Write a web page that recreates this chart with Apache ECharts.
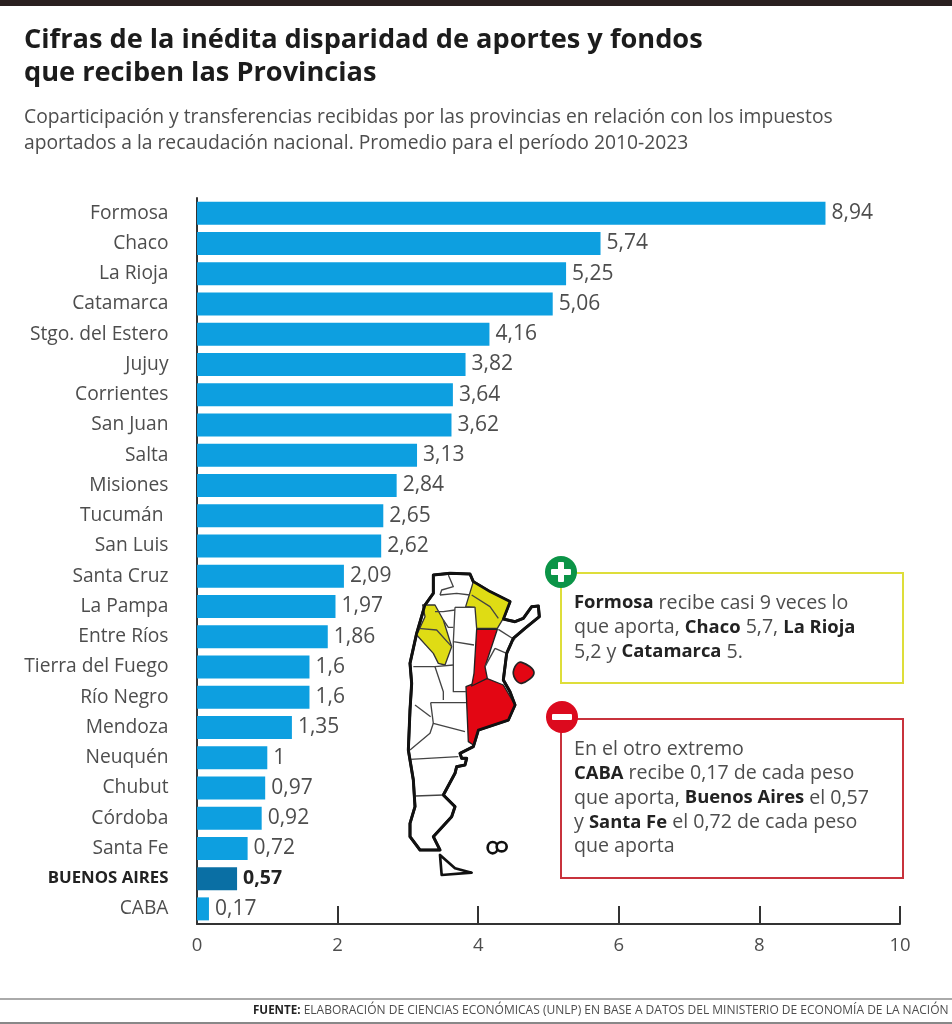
<!DOCTYPE html>
<html><head><meta charset="utf-8">
<style>html,body{margin:0;padding:0;background:#fff}#c{width:952px;height:1024px}</style>
<script src="https://cdn.jsdelivr.net/npm/echarts@6/dist/echarts.min.js"></script>
</head><body><div id="c"></div>
<script>
const categories = ['Formosa','Chaco','La Rioja','Catamarca','Stgo. del Estero','Jujuy','Corrientes','San Juan','Salta','Misiones','Tucumán ','San Luis','Santa Cruz','La Pampa','Entre Ríos','Tierra del Fuego','Río Negro','Mendoza','Neuquén','Chubut','Córdoba','Santa Fe','BUENOS AIRES','CABA'];
const values = [8.94,5.74,5.25,5.06,4.16,3.82,3.64,3.62,3.13,2.84,2.65,2.62,2.09,1.97,1.86,1.6,1.6,1.35,1,0.97,0.92,0.72,0.57,0.17];
const highlighted = 'BUENOS AIRES';
const titleLines = 'Cifras de la inédita disparidad de aportes y fondos\nque reciben las Provincias';
const subtitleLines = 'Coparticipación y transferencias recibidas por las provincias en relación con los impuestos\naportados a la recaudación nacional. Promedio para el período 2010-2023';
const plusNote = '{b|Formosa} recibe casi 9 veces lo\nque aporta, {b|Chaco} 5,7, {b|La Rioja}\n5,2 y {b|Catamarca} 5.';
const minusNote = 'En el otro extremo\n{b|CABA} recibe 0,17 de cada peso\nque aporta, {b|Buenos Aires} el 0,57\ny {b|Santa Fe} el 0,72 de cada peso\nque aporta';
const font = '"Open Sans"';
const gray = '#4d4d4d', ink = '#222';

const outline = [[100,75],[150,70],[210,72],[220,95],[270,125],[330,155],[310,207],[345,215],[370,205],[395,170],[415,168],[418,200],[375,235],[340,265],[320,310],[310,390],[330,425],[345,465],[325,510],[235,540],[220,590],[180,610],[185,625],[200,625],[195,645],[170,650],[165,670],[130,735],[165,770],[155,800],[100,860],[120,900],[60,900],[30,860],[30,820],[45,770],[40,690],[25,600],[30,480],[35,400],[30,340],[50,250],[75,165],[100,130]];
const fuego = [[120,915],[125,975],[215,968],[165,955]];
const redShapes = [
  [[198,410],[260,385],[310,405],[345,465],[325,510],[235,540],[220,585],[205,575]],
  [[230,238],[292,238],[255,350],[262,385],[215,408],[222,370]]
];
const redBlob = [[345,350],[365,337],[402,368],[365,400],[342,380]];
const yellowShapes = [
  [[220,95],[270,125],[330,155],[310,205],[292,235],[230,235],[225,172],[197,170]],
  [[68,165],[105,165],[130,210],[155,290],[135,345],[115,340],[100,310],[50,255],[75,200]]
];
const borders = [
  [[165,172],[225,172]],[[165,172],[160,275],[222,285]],[[160,275],[160,425],[198,425]],
  [[40,350],[70,350],[105,350],[160,345]],[[105,350],[130,425],[130,450]],[[92,458],[198,458]],[[92,458],[100,520],[195,545]],
  [[100,520],[90,550],[30,600]],[[30,628],[175,620]],[[45,738],[130,735]],[[45,465],[92,500]],
  [[215,135],[270,170],[295,205]],[[105,185],[130,185],[165,180]],[[130,210],[145,232],[160,232]],
  [[55,235],[110,240],[155,290]],[[145,75],[160,110],[125,120],[120,135]],[[120,135],[170,130],[210,135]],
  [[295,238],[345,270]],[[285,295],[320,310]],[[255,350],[285,295]]
];
const pl = (pts,style,closed,smooth)=>({type:closed?'polygon':'polyline',shape:{points:pts,smooth:smooth||0},style});
const mapChildren = [
  pl(outline,{fill:'#fff',stroke:'#111',lineWidth:9,lineJoin:'round'},true),
  ...yellowShapes.map(p=>pl(p,{fill:'#dfdc14',stroke:'#333',lineWidth:4,lineJoin:'round'},true)),
  ...redShapes.map(p=>pl(p,{fill:'#e30613',stroke:'#222',lineWidth:4,lineJoin:'round'},true)),
  ...borders.map(p=>pl(p,{fill:null,stroke:'#444',lineWidth:4,lineJoin:'round'},false)),
  pl(outline,{fill:null,stroke:'#111',lineWidth:8,lineJoin:'round'},true),
  pl(fuego,{fill:'#fff',stroke:'#111',lineWidth:8,lineJoin:'round'},true),
  pl(redBlob,{fill:'#e30613',stroke:'#222',lineWidth:5},true,0.4),
  {type:'ellipse',shape:{cx:278,cy:893,rx:15,ry:17},style:{fill:'#fff',stroke:'#111',lineWidth:8}},
  {type:'ellipse',shape:{cx:305,cy:890,rx:15,ry:14},style:{fill:'#fff',stroke:'#111',lineWidth:8}}
];
function badge(cx,cy,color,plus){
  const bars=[{type:'rect',shape:{x:cx-10,y:cy-3,width:20,height:6,r:1},style:{fill:'#fff'}}];
  if(plus) bars.push({type:'rect',shape:{x:cx-3,y:cy-10,width:6,height:20,r:1},style:{fill:'#fff'}});
  return [{type:'circle',shape:{cx,cy,r:16},style:{fill:color}},...bars];
}
const noteStyle=(x,y,text)=>({type:'text',x,y,style:{text,font:`19.6px ${font}`,fill:gray,lineHeight:24.4,rich:{b:{font:`bold 18.4px ${font}`,fill:ink,lineHeight:24.4}}}});

const chart = echarts.init(document.getElementById('c'),null,{renderer:'canvas'});
chart.setOption({
  animation:false,
  backgroundColor:'#fff',
  grid:{left:197,right:52,top:198,bottom:100,containLabel:false},
  xAxis:{type:'value',min:0,max:10,interval:2,splitLine:{show:false},
    axisLine:{show:true,lineStyle:{color:'#333',width:2}},
    axisTick:{show:true,inside:true,length:18,lineStyle:{color:'#333',width:2}},
    axisLabel:{color:gray,fontFamily:'"Open Sans"',fontSize:18.5,margin:12,formatter:v=>String(v),showMinLabel:true,showMaxLabel:true}},
  yAxis:{type:'category',inverse:true,data:categories,
    axisLine:{show:true,onZero:false,lineStyle:{color:'#333',width:2}},axisTick:{show:false},
    axisLabel:{margin:28.5,color:gray,fontFamily:'"Open Sans"',fontSize:19.2,
      formatter:v=>v===highlighted?`{h|${v}}`:v,
      rich:{h:{fontFamily:'"Open Sans"',fontWeight:'bold',fontSize:16.8,color:ink}}}},
  series:[{type:'bar',barWidth:23,data:values.map((v,i)=>({value:v,itemStyle:{color:categories[i]===highlighted?'#0a6fa4':'#0d9fe0'},
      label:categories[i]===highlighted?{fontWeight:'bold',color:ink,fontSize:19.5}:{}})),
    label:{show:true,position:'right',distance:6,color:gray,fontFamily:'"Open Sans"',fontSize:21,
      formatter:p=>String(p.value).replace('.',',')}}],
  graphic:[
    {type:'rect',shape:{x:0,y:0,width:952,height:6},style:{fill:'#2a2020'}},
    {type:'text',x:24,y:24,style:{text:titleLines,font:`bold 27.2px ${font}`,fill:'#1c1c1c',lineHeight:33}},
    {type:'text',x:24,y:105,style:{text:subtitleLines,font:`19.3px ${font}`,fill:gray,lineHeight:25.5}},
    {type:'group',x:400,y:550,scaleX:1/3,scaleY:1/3,children:mapChildren},
    {type:'rect',shape:{x:561,y:573,width:342,height:110},style:{fill:'#fff',stroke:'#dede3a',lineWidth:2}},
    {type:'rect',shape:{x:561,y:719,width:342,height:159},style:{fill:'#fff',stroke:'#c8323c',lineWidth:2}},
    ...badge(561,572,'#0b9447',true),
    ...badge(562,717,'#dc0a1e',false),
    noteStyle(574,591,plusNote),
    noteStyle(574,737,minusNote),
    {type:'rect',shape:{x:0,y:998,width:952,height:2},style:{fill:'#aaa'}},
    {type:'rect',shape:{x:0,y:1022,width:952,height:2},style:{fill:'#888'}},
    {type:'text',x:253,y:1005,style:{text:'{b|FUENTE:} ELABORACIÓN DE CIENCIAS ECONÓMICAS (UNLP) EN BASE A DATOS DEL MINISTERIO DE ECONOMÍA DE LA NACIÓN',font:`12px ${font}`,fill:gray,rich:{b:{font:`bold 11.6px ${font}`,fill:ink}}}}
  ]
});
</script></body></html>
